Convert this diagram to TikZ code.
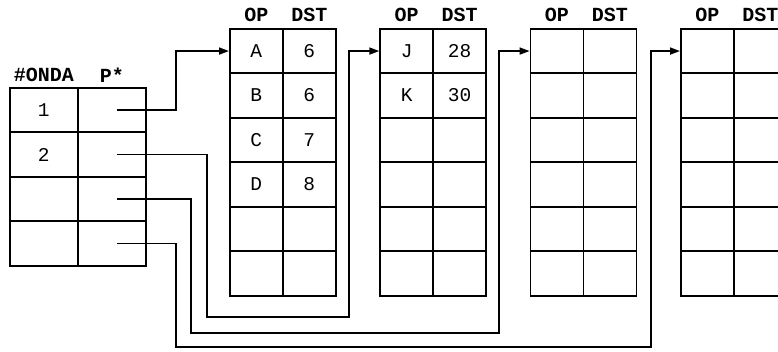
\documentclass[tikz,border=0pt]{standalone}
\usepackage{fontspec}
\setmonofont{Liberation Mono}
\usetikzlibrary{arrows.meta}
\tikzset{
  cell/.style={draw, line width=1.6pt, minimum width=53pt, minimum height=44.5pt,
    inner sep=0pt, anchor=north west, font=\ttfamily\fontsize{19.5}{22}\selectfont},
  lcell/.style={cell, minimum width=68pt},
  hdr/.style={inner sep=0pt, font=\ttfamily\bfseries\fontsize{20}{22}\selectfont},
  ptr/.style={line width=1.6pt, -{Triangle[length=10pt,width=7pt]}}
}
\begin{document}
\begin{tikzpicture}[x=1pt,y=-1pt]
\useasboundingbox (0,0) rectangle (778,352);
\clip (0,0) rectangle (778,352);
% data tables
\foreach \t/\x/\rows in {
  1/229/{A/6,B/6,C/7,D/8,{}/{},{}/{}},
  2/379.3/{J/28,K/30,{}/{},{}/{},{}/{},{}/{}},
  3/529.6/{{}/{},{}/{},{}/{},{}/{},{}/{},{}/{}},
  4/680/{{}/{},{}/{},{}/{},{}/{},{}/{},{}/{}}} {
  \foreach \a/\b [count=\r] in \rows {
    \node[cell] (t\t-\r-1) at (\x, {28+(\r-1)*44.5}) {\a};
    \node[cell] (t\t-\r-2) at (\x+53, {28+(\r-1)*44.5}) {\b};
  }
  \node[hdr] (h\t-op) at ([yshift=13pt]t\t-1-1.north) {OP};
  \node[hdr] (h\t-dst) at ([yshift=13pt]t\t-1-2.north) {DST};
}
% wave table
\foreach \a [count=\r] in {1,2,{},{}} {
  \node[lcell] (l-\r-1) at (9, {87+(\r-1)*44.5}) {\a};
  \node[lcell] (l-\r-2) at (77, {87+(\r-1)*44.5}) {};
}
\node[hdr] (hl-onda) at ([yshift=12pt]l-1-1.north) {\#ONDA};
\node[hdr] (hl-p) at ([yshift=12pt]l-1-2.north) {P*};
% pointer bends
\coordinate (c1) at (176,0);
\coordinate (c2a) at (207,317);
\coordinate (c2b) at (349,317);
\coordinate (c3a) at (191,333);
\coordinate (c3b) at (499,333);
\coordinate (c4a) at (176,347);
\coordinate (c4b) at (651,347);
% pointers
\draw[ptr] ([xshift=5pt]l-1-2.center) -| (c1 |- t1-1-1.west) -- (t1-1-1.west);
\draw[ptr] ([xshift=5pt]l-2-2.center) -| (c2a) -- (c2b) |- (t2-1-1.west);
\draw[ptr] ([xshift=5pt]l-3-2.center) -| (c3a) -- (c3b) |- (t3-1-1.west);
\draw[ptr] ([xshift=5pt]l-4-2.center) -| (c4a) -- (c4b) |- (t4-1-1.west);
\end{tikzpicture}
\end{document}
